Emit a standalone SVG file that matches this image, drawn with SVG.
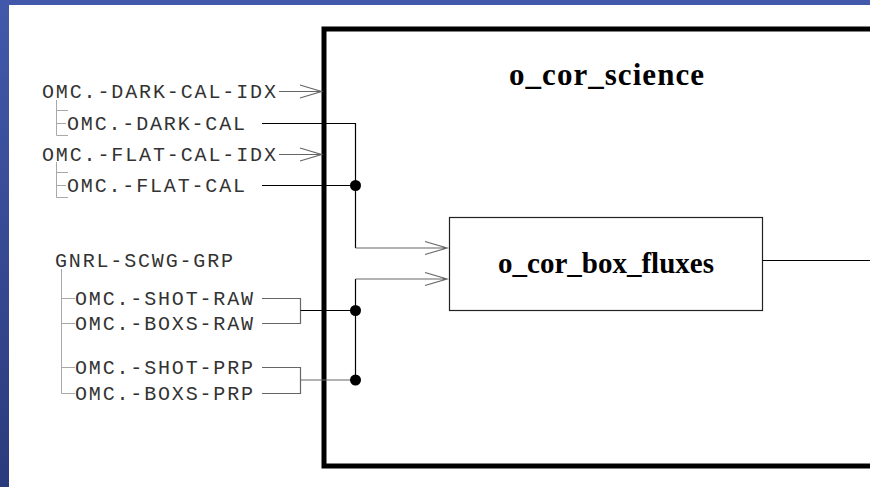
<svg xmlns="http://www.w3.org/2000/svg" width="870" height="487" viewBox="0 0 870 487">
<defs>
<linearGradient id="lb" x1="0" y1="0" x2="0" y2="1">
<stop offset="0" stop-color="#4259ab"/>
<stop offset="1" stop-color="#2b3a7c"/>
</linearGradient>
<style>
.mono{font-family:"Liberation Mono","DejaVu Sans Mono",monospace;font-size:20px;fill:#333}
.ttl{font-family:"Liberation Serif","DejaVu Serif",serif;font-weight:bold;fill:#000;text-anchor:middle}
.tree{stroke:#a8a8a8;stroke-width:1;fill:none}
.wire{stroke:#000;stroke-width:1.2;fill:none}
.gw{stroke:#666;stroke-width:1.2;fill:none}
.dot{fill:#000}
</style>
</defs>
<rect x="0" y="0" width="870" height="487" fill="#fff"/>
<rect x="0" y="0" width="870" height="5" fill="#4259ab"/>
<rect x="0" y="0" width="9" height="487" fill="url(#lb)"/>

<g id="o_cor_science">
<rect x="324" y="29" width="560" height="437" fill="none" stroke="#000" stroke-width="5"/>
<text class="ttl" x="606.5" y="85" font-size="31" textLength="195" lengthAdjust="spacing">o_cor_science</text>
</g>

<g id="o_cor_box_fluxes">
<rect x="449.5" y="217.5" width="313" height="93" fill="#fff" stroke="#222" stroke-width="1.2"/>
<text class="ttl" x="606" y="273" font-size="29" textLength="216" lengthAdjust="spacing">o_cor_box_fluxes</text>
</g>

<g id="dark-cal-idx"><text class="mono" x="42" y="98" textLength="234" lengthAdjust="spacing">OMC.-DARK-CAL-IDX</text></g>
<g id="dark-cal"><text class="mono" x="67" y="129.5" textLength="178" lengthAdjust="spacing">OMC.-DARK-CAL</text></g>
<g id="flat-cal-idx"><text class="mono" x="42" y="160.5" textLength="234" lengthAdjust="spacing">OMC.-FLAT-CAL-IDX</text></g>
<g id="flat-cal"><text class="mono" x="67" y="191.5" textLength="178" lengthAdjust="spacing">OMC.-FLAT-CAL</text></g>
<g id="gnrl-scwg-grp"><text class="mono" x="55" y="267" textLength="178" lengthAdjust="spacing">GNRL-SCWG-GRP</text></g>
<g id="shot-raw"><text class="mono" x="75" y="304.5" textLength="178" lengthAdjust="spacing">OMC.-SHOT-RAW</text></g>
<g id="boxs-raw"><text class="mono" x="75" y="329.5" textLength="178" lengthAdjust="spacing">OMC.-BOXS-RAW</text></g>
<g id="shot-prp"><text class="mono" x="75" y="373.5" textLength="178" lengthAdjust="spacing">OMC.-SHOT-PRP</text></g>
<g id="boxs-prp"><text class="mono" x="75" y="399.5" textLength="178" lengthAdjust="spacing">OMC.-BOXS-PRP</text></g>

<g id="connectors">
<path class="tree" d="M56.5 100V135.5H68 M56.5 110.5H68 M56.5 123.5H66"/>
<path class="tree" d="M56.5 162V197.5H68 M56.5 172.5H68 M56.5 185.5H66"/>
<path class="tree" d="M61.5 269V393.5H75 M61.5 298.5H75 M61.5 323.5H75 M61.5 367.5H75"/>
<path class="gw" d="M279 91.5H321 M300 85L321.5 91.5L300 98"/>
<path class="gw" d="M279 154.5H321 M300 148L321.5 154.5L300 161"/>
<path class="wire" d="M262 123.5H355.5V248"/>
<path class="wire" d="M262 185.5H355.5"/>
<path class="gw" d="M355.5 248H446 M425 241.5L447 248L425 254.5"/>
<path class="gw" d="M262 298.5H300.5V323.5H262"/>
<path class="gw" d="M262 367.5H300.5V393.5H262"/>
<path class="wire" d="M300.5 310.5H355.5"/>
<path class="gw" d="M300.5 380H355.5"/>
<path class="wire" d="M355.5 380V279"/>
<path class="gw" d="M355.5 279H446 M425 272.5L447 279L425 285.5"/>
<path class="wire" d="M762.5 260.5H870"/>
<circle class="dot" cx="355.5" cy="185.5" r="5.5"/>
<circle class="dot" cx="355.5" cy="310.5" r="5.5"/>
<circle class="dot" cx="355.5" cy="380" r="5.5"/>
</g>
</svg>
